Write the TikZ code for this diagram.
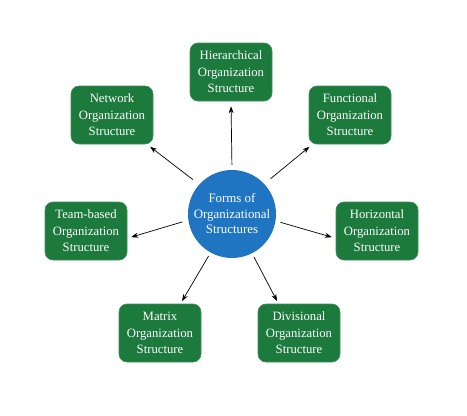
\documentclass[tikz,border=0pt]{standalone}
\usepackage{fontspec}
\setmainfont{Liberation Serif}
\usetikzlibrary{arrows.meta}
\definecolor{boxgreen}{HTML}{1C7A3D}
\definecolor{hubblue}{HTML}{1F75C1}
\tikzset{
  orgbox/.style={draw=boxgreen!85!white, line width=0.6pt, fill=boxgreen, rounded corners=8pt,
    minimum width=82pt, minimum height=58pt, inner sep=0pt, align=center,
    text=white, font=\fontsize{12.7}{16.5}\selectfont},
  hub/.style={circle, fill=hubblue, minimum size=88pt, inner sep=0pt, align=center,
    text=white, font=\fontsize{12.9}{15.5}\selectfont},
  arr/.style={-{Stealth[length=7pt,width=5pt]}, line width=0.7pt, black}
}
\begin{document}
\begin{tikzpicture}[x=1pt,y=-1pt]
\useasboundingbox (0,0) rectangle (467,416);
\node[hub] (c) at (232,214) {Forms of\\Organizational\\Structures};
\node[orgbox] (hier) at (231,72) {Hierarchical\\Organization\\Structure};
\node[orgbox] (net) at (112,115) {Network\\Organization\\Structure};
\node[orgbox] (func) at (350,115) {Functional\\Organization\\Structure};
\node[orgbox] (team) at (86,231) {Team-based\\Organization\\Structure};
\node[orgbox] (horiz) at (377,231) {Horizontal\\Organization\\Structure};
\node[orgbox] (mat) at (160,333) {Matrix\\Organization\\Structure};
\node[orgbox] (div) at (299,333) {Divisional\\Organization\\Structure};
\draw[arr, shorten <=5pt, shorten >=5pt] (c.90) -- (hier.south);
\draw[arr, shorten <=8pt, shorten >=4pt] (c.138) -- (net.-40);
\draw[arr, shorten <=8pt, shorten >=4pt] (c.43) -- (func.-142);
\draw[arr, shorten <=6pt, shorten >=4pt] (c.188) -- (team.-10);
\draw[arr, shorten <=5pt, shorten >=4pt] (c.351) -- (horiz.190);
\draw[arr, shorten <=4pt, shorten >=3pt] (c.241) -- (mat.55);
\draw[arr, shorten <=4pt, shorten >=3pt] (c.297) -- (div.125);
\end{tikzpicture}
\end{document}
